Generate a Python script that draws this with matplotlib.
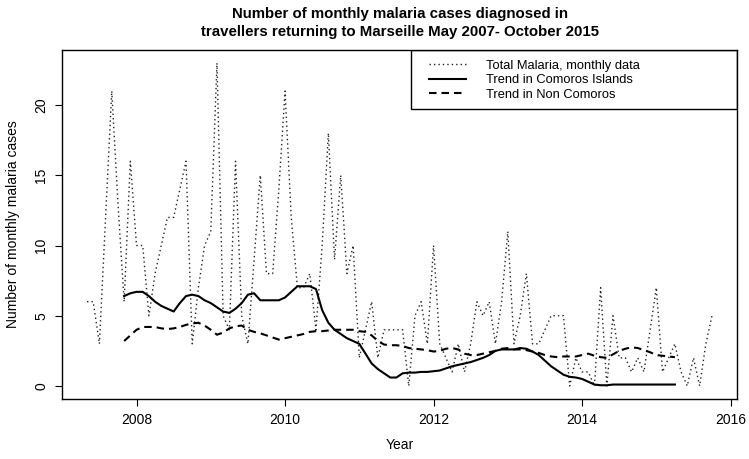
import numpy as np
import matplotlib
matplotlib.use("Agg")
import matplotlib.pyplot as plt
from matplotlib.patches import Rectangle

plt.rcParams["font.family"] = ["Liberation Sans", "DejaVu Sans"]

# monthly totals, May 2007 - October 2015
total_cases = [6, 6, 3, 12, 21, 13, 6, 16, 10, 10, 5, 8,
               10, 12, 12, 14, 16, 3, 7, 10, 11, 23, 5, 4,
               16, 5, 3, 9, 15, 8, 8, 14, 21, 12, 7, 7,
               8, 4, 10, 18, 9, 15, 8, 10, 2, 4, 6, 2,
               4, 4, 4, 4, 0, 5, 6, 3, 10, 3, 2, 1,
               3, 1, 3, 6, 5, 6, 3, 6, 11, 3, 5, 8,
               3, 3, 4, 5, 5, 5, 0, 2, 1, 1, 0, 7,
               0, 5, 2, 2, 1, 2, 1, 4, 7, 1, 2, 3,
               1, 0, 2, 0, 3, 5]

# moving-average trends, November 2007 - April 2015
trend_comoros = [6.4, 6.6, 6.7, 6.7, 6.4, 6.0, 5.7, 5.5, 5.3, 5.9, 6.4, 6.5,
                 6.4, 6.1, 5.9, 5.6, 5.3, 5.2, 5.5, 5.9, 6.5, 6.6, 6.1, 6.1,
                 6.1, 6.1, 6.3, 6.7, 7.1, 7.1, 7.1, 6.9, 5.4, 4.5, 4.0, 3.7,
                 3.4, 3.2, 3.0, 2.3, 1.6, 1.2, 0.9, 0.6, 0.6, 0.9, 0.95, 0.95,
                 1.0, 1.0, 1.05, 1.1, 1.25, 1.4, 1.5, 1.6, 1.7, 1.85, 2.0, 2.2,
                 2.5, 2.6, 2.6, 2.6, 2.7, 2.65, 2.45, 2.2, 1.8, 1.4, 1.1, 0.8,
                 0.65, 0.6, 0.5, 0.3, 0.1, 0.05, 0.05, 0.1, 0.1, 0.1, 0.1, 0.1,
                 0.1, 0.1, 0.1, 0.1, 0.1, 0.1]
trend_non_comoros = [3.2, 3.6, 4.0, 4.2, 4.2, 4.2, 4.1, 4.05, 4.1, 4.2, 4.35, 4.45,
                     4.5, 4.3, 4.0, 3.65, 3.8, 4.1, 4.25, 4.3, 4.0, 3.85, 3.75, 3.6,
                     3.45, 3.3, 3.4, 3.5, 3.6, 3.7, 3.85, 3.9, 3.9, 3.95, 4.0, 4.0,
                     4.0, 4.0, 3.9, 3.85, 3.6, 3.2, 2.95, 2.9, 2.9, 2.85, 2.7, 2.65,
                     2.6, 2.55, 2.45, 2.5, 2.65, 2.7, 2.6, 2.3, 2.2, 2.2, 2.3, 2.4,
                     2.5, 2.65, 2.7, 2.6, 2.6, 2.55, 2.45, 2.35, 2.2, 2.1, 2.05, 2.1,
                     2.1, 2.1, 2.2, 2.3, 2.15, 2.05, 2.0, 2.25, 2.5, 2.65, 2.75, 2.7,
                     2.55, 2.4, 2.2, 2.15, 2.1, 2.05]

x_ticks = [2008, 2010, 2012, 2014, 2016]
y_ticks = [0, 5, 10, 15, 20]

# decimal years like an R ts object starting at May 2007
years = 2007 + (np.arange(len(total_cases)) + 4) / 12
trend_years = years[6:6 + len(trend_comoros)]

fig = plt.figure(figsize=(7.49, 4.59), dpi=100)
ax = fig.add_axes([0.0828, 0.131, 0.9012, 0.760])

dotted = (0, (1, 2.2))
dashed = (0, (3.6, 2.4))
ax.plot(years, total_cases, color="#222222", lw=1.0, linestyle=dotted)
ax.plot(trend_years, trend_comoros, color="black", lw=1.5)
ax.plot(trend_years, trend_non_comoros, color="black", lw=1.5, linestyle=dashed)

ax.margins(x=0.04, y=0.04)
ax.set_xticks(x_ticks)
ax.set_yticks(y_ticks)
ax.tick_params(direction="out", length=5, width=0.8, labelsize=10, pad=5)
for lab in ax.get_yticklabels():
    lab.set_rotation(90)
    lab.set_va("center")
for sp in ax.spines.values():
    sp.set_linewidth(1.0)

ax.set_xlabel("Year", fontsize=10, labelpad=8)
ax.set_ylabel("Number of monthly malaria cases", fontsize=10, labelpad=10)
ax.set_title("Number of monthly malaria cases diagnosed in\n"
             "travellers returning to Marseille May 2007- October 2015",
             fontsize=10.8, fontweight="bold", pad=10, linespacing=1.35)

# legend box sitting in the top right corner, R style
ax.add_patch(Rectangle((0.517, 0.830), 0.483, 0.170, transform=ax.transAxes,
                       fill=False, edgecolor="black", lw=1.0, zorder=5))
h1, = ax.plot([], [], color="#222222", lw=1.0, linestyle=dotted)
h2, = ax.plot([], [], color="black", lw=1.5)
h3, = ax.plot([], [], color="black", lw=1.5, linestyle=dashed)
ax.legend([h1, h2, h3],
          ["Total Malaria, monthly data", "Trend in Comoros Islands", "Trend in Non Comoros"],
          loc="upper left", bbox_to_anchor=(0.529, 1.0), borderaxespad=0,
          frameon=False, fontsize=9.3, handlelength=2.9, handletextpad=1.5,
          labelspacing=0.2, borderpad=0.75)

fig.savefig("out.png", dpi=100)
